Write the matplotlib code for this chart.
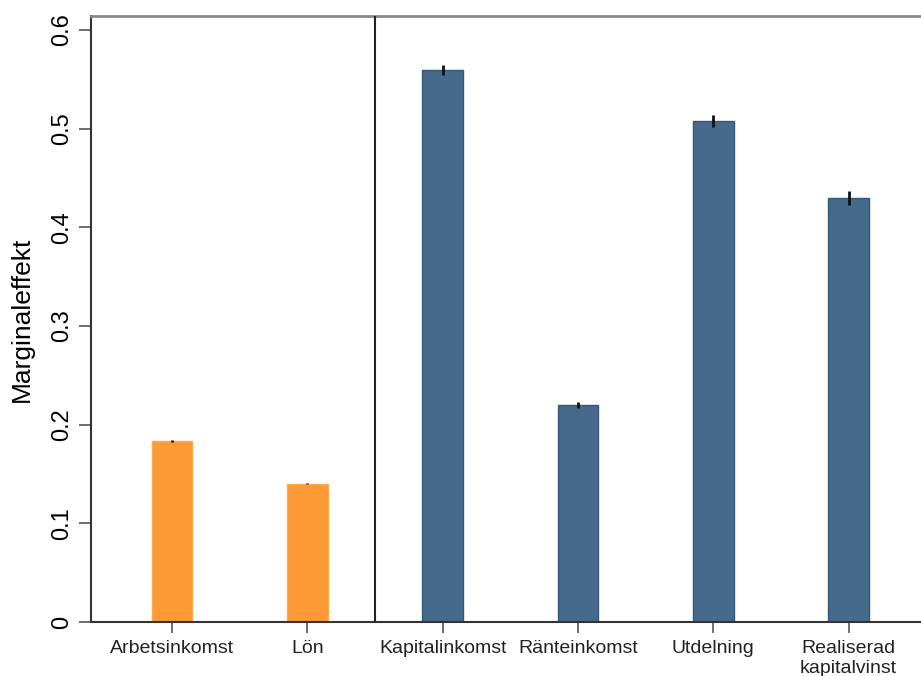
import matplotlib
matplotlib.use("Agg")
import matplotlib.pyplot as plt
import numpy as np

plt.rcParams['font.family'] = ['Liberation Sans', 'DejaVu Sans']

categories = ["Arbetsinkomst", "Lön", "Kapitalinkomst", "Ränteinkomst",
              "Utdelning", "Realiserad\nkapitalvinst"]
effects = [0.183, 0.140, 0.559, 0.220, 0.508, 0.430]
errors = [0.001, 0.0006, 0.005, 0.003, 0.006, 0.007]
group = ["arbete", "arbete", "kapital", "kapital", "kapital", "kapital"]
yticks = [0, 0.1, 0.2, 0.3, 0.4, 0.5, 0.6]
ytick_labels = ["0", "0.1", "0.2", "0.3", "0.4", "0.5", "0.6"]

colors = {"arbete": ("#FD9A35", "#FFA94F"), "kapital": ("#466A8B", "#33587A")}

fig = plt.figure(figsize=(9.21, 6.76), dpi=100)
ax = fig.add_axes([91 / 921, 54 / 676, 1 - 91 / 921, 606 / 676])

x = np.arange(len(categories))
face = [colors[g][0] for g in group]
edge = [colors[g][1] for g in group]
ax.bar(x, effects, width=0.3, color=face, edgecolor=edge, linewidth=1.0, zorder=2)
ax.errorbar(x, effects, yerr=errors, fmt="none", ecolor="#111111",
            elinewidth=2.0, capsize=0, zorder=3)

# divider between labour income and capital income groups
ax.axvline(1.5, color="#222222", linewidth=1.5, zorder=4)

ax.set_xlim(-0.6, 5.535)
ax.set_ylim(0, 0.614)
ax.set_xticks(x)
ax.set_xticklabels(categories, fontsize=14, color="#222222", linespacing=1.25)
ax.set_yticks(yticks)
ax.set_yticklabels(ytick_labels, fontsize=17, rotation=90, va="center")
ax.set_ylabel("Marginaleffekt", fontsize=19, labelpad=12)

ax.tick_params(axis="x", length=8, width=1.2, color="#555555", pad=5)
ax.tick_params(axis="y", length=9, width=1.2, color="#555555", pad=4)

ax.spines["right"].set_visible(False)
ax.spines["top"].set_color("#888888")
ax.spines["top"].set_linewidth(2.0)
ax.spines["left"].set_color("#333333")
ax.spines["left"].set_linewidth(1.5)
ax.spines["bottom"].set_color("#333333")
ax.spines["bottom"].set_linewidth(1.5)

fig.savefig("out.png", dpi=100)
